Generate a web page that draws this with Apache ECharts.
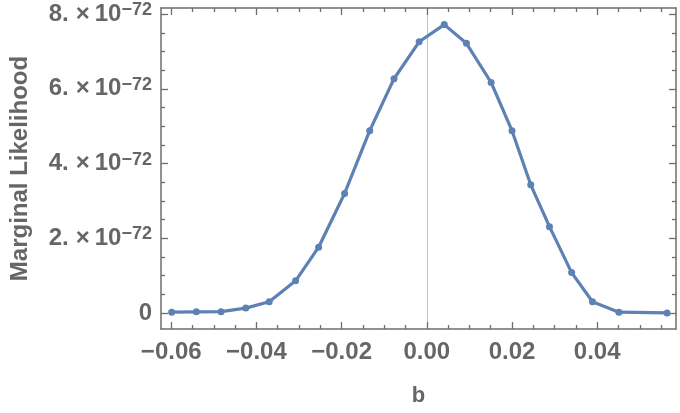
<!DOCTYPE html>
<html>
<head>
<meta charset="utf-8">
<script src="https://cdn.jsdelivr.net/npm/echarts@6/dist/echarts.min.js"></script>
<style>
  html, body { margin: 0; padding: 0; background: #fff; }
  #main { width: 680px; height: 413px; }
</style>
</head>
<body>
<div id="main"></div>
<script>
// b values and marginal likelihood (in units of 10^-72)
const bValues = [-0.0599, -0.0541, -0.0483, -0.0425, -0.0370, -0.0308, -0.0254,
  -0.0193, -0.0134, -0.0077, -0.0018, 0.0041, 0.0093, 0.0151, 0.0200, 0.0244,
  0.0288, 0.0340, 0.0389, 0.0451, 0.0564];
const likelihood = [0.02, 0.03, 0.035, 0.13, 0.30, 0.86, 1.76, 3.20, 4.88, 6.27,
  7.26, 7.72, 7.22, 6.17, 4.88, 3.43, 2.31, 1.08, 0.30, 0.02, 0.0];
const exponent = '−72';

// tick marks
const xTicks = [-0.06, -0.04, -0.02, 0, 0.02, 0.04];
const xTickLabels = ['−0.06', '−0.04', '−0.02', '0.00', '0.02', '0.04'];
const yTicks = [0, 2, 4, 6, 8];
const yTickLabels = ['0', '2.', '4.', '6.', '8.'];

const xMin = -0.0624, xMax = 0.0585;
const yMin = -0.43, yMax = 8.165;

// minor ticks between the labelled ones
const xMinor = [];
for (let i = -13; i <= 12; i++) {
  const v = +(i * 0.005).toFixed(4);
  if (v > xMin && v < xMax && i % 4 !== 0) xMinor.push(v);
}
const yMinor = [];
for (let i = -1; i <= 17; i++) {
  const v = i * 0.5;
  if (v > yMin && v < yMax && i % 4 !== 0) yMinor.push(v);
}

const textColor = '#666666';
const frameColor = '#6e6e6e';
const frameWidth = 1.5;
const tickWidth = 1.3;
const lineColor = '#5e81b5';
const font = '"Liberation Sans", Arial, sans-serif';

function findIdx(arr, v) {
  let best = 0;
  arr.forEach((t, i) => { if (Math.abs(t - v) < Math.abs(arr[best] - v)) best = i; });
  return best;
}

// axes that only carry the frame line and tick marks
function frameAxis(pos, ticks, len, withLine) {
  const isX = pos === 'top' || pos === 'bottom';
  return {
    type: 'value',
    position: pos,
    min: isX ? xMin : yMin,
    max: isX ? xMax : yMax,
    axisLine: { show: withLine, onZero: false, lineStyle: { color: frameColor, width: frameWidth } },
    axisTick: { show: true, inside: true, length: len, customValues: ticks,
      lineStyle: { color: frameColor, width: tickWidth } },
    axisLabel: { show: false },
    splitLine: { show: false }
  };
}

const chart = echarts.init(document.getElementById('main'));

const option = {
  animation: false,
  grid: { left: 156, right: 4, top: 8, bottom: 84 },
  xAxis: [
    {
      type: 'value',
      position: 'bottom',
      min: xMin,
      max: xMax,
      name: 'b',
      nameLocation: 'middle',
      nameGap: 56,
      nameTextStyle: { color: textColor, fontSize: 22, fontWeight: 'bold', fontFamily: font },
      axisLine: { show: true, onZero: false, lineStyle: { color: frameColor, width: frameWidth } },
      axisTick: { show: true, inside: true, length: 7, customValues: xTicks,
        lineStyle: { color: frameColor, width: tickWidth } },
      axisLabel: {
        show: true,
        customValues: xTicks,
        margin: 11,
        color: textColor,
        fontSize: 24,
        fontWeight: 'bold',
        fontFamily: font,
        formatter: v => xTickLabels[findIdx(xTicks, v)]
      },
      splitLine: { show: false }
    },
    frameAxis('bottom', xMinor, 4, false),
    frameAxis('top', xTicks, 7, true),
    frameAxis('top', xMinor, 4, false)
  ],
  yAxis: [
    {
      type: 'value',
      position: 'left',
      min: yMin,
      max: yMax,
      name: 'Marginal Likelihood',
      nameLocation: 'middle',
      nameGap: 129,
      nameTextStyle: { color: textColor, fontSize: 24, fontWeight: 'bold', fontFamily: font },
      axisLine: { show: true, onZero: false, lineStyle: { color: frameColor, width: frameWidth } },
      axisTick: { show: true, inside: true, length: 7, customValues: yTicks,
        lineStyle: { color: frameColor, width: tickWidth } },
      axisLabel: {
        show: true,
        customValues: yTicks,
        margin: 9,
        color: textColor,
        fontSize: 24,
        fontWeight: 'bold',
        fontFamily: font,
        formatter: v => {
          const i = findIdx(yTicks, v);
          if (yTicks[i] === 0) return '{m|0}';
          return '{m|' + yTickLabels[i] + '}{x|×}{m|10}{s|' + exponent + '}';
        },
        rich: {
          m: { fontSize: 24, fontWeight: 'bold', lineHeight: 26, color: textColor, fontFamily: font },
          x: { fontSize: 24, fontWeight: 'bold', lineHeight: 26, color: textColor, fontFamily: font,
            padding: [0, 5, 0, 7] },
          s: { fontSize: 18, fontWeight: 'bold', lineHeight: 16, verticalAlign: 'top',
            color: textColor, fontFamily: font }
        }
      },
      splitLine: { show: false }
    },
    frameAxis('left', yMinor, 4, false),
    frameAxis('right', yTicks, 7, true),
    frameAxis('right', yMinor, 4, false),
    {
      // thin vertical line at b = 0
      type: 'value',
      position: 'left',
      min: yMin,
      max: yMax,
      axisLine: { show: true, onZero: true, onZeroAxisIndex: 0,
        lineStyle: { color: '#c4c4c4', width: 1 } },
      axisTick: { show: false },
      axisLabel: { show: false },
      splitLine: { show: false }
    }
  ],
  series: [
    {
      type: 'line',
      z: 3,
      data: bValues.map((b, i) => [b, likelihood[i]]),
      symbol: 'circle',
      symbolSize: 7,
      showSymbol: true,
      lineStyle: { color: lineColor, width: 3.2 },
      itemStyle: { color: lineColor }
    }
  ]
};

chart.setOption(option);
</script>
</body>
</html>
